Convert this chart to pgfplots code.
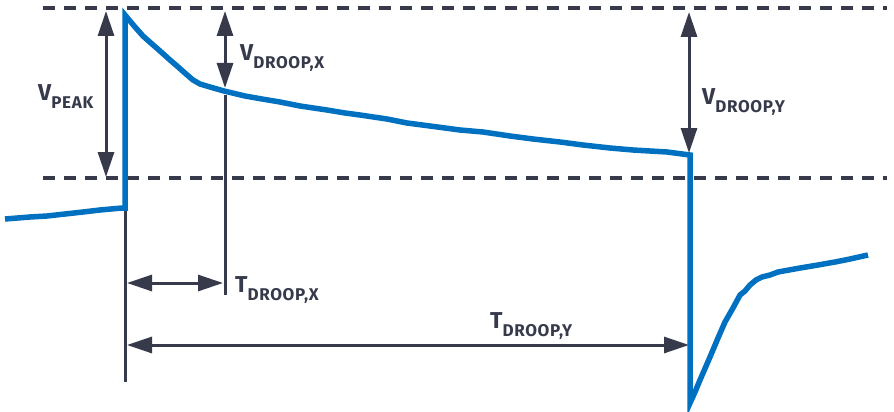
\documentclass[border=0pt]{standalone}
\usepackage{pgfplots}
\pgfplotsset{compat=1.18}
\usepackage{fontspec}
\setmainfont{Fira Sans}
\usetikzlibrary{arrows.meta}

\definecolor{adiblue}{RGB}{0,112,192}
\definecolor{adidark}{RGB}{54,58,75}

% label with lowered subscript
\newcommand{\lbl}[2]{{\fontsize{23}{23}\selectfont\bfseries #1}\raisebox{-8pt}{\fontsize{17}{17}\selectfont\bfseries\addfontfeatures{LetterSpace=4}#2}}

\begin{document}
\begin{tikzpicture}
\begin{axis}[
    x=1pt, y=1pt,
    y dir=reverse,
    xmin=0, xmax=894,
    ymin=0, ymax=412,
    hide axis,
    clip=false,
    ]

    % fix the page to the full canvas
    \path (axis cs:0,0) rectangle (axis cs:894,412);

    % dashed reference levels
    \addplot[adidark, line width=3.5pt, dash pattern=on 12pt off 9pt]
        coordinates {(43,8) (887,8)};
    \addplot[adidark, line width=3.5pt, dash pattern=on 12pt off 9pt]
        coordinates {(43,178) (887,178)};

    % vertical marker lines
    \addplot[adidark, line width=3pt] coordinates {(125,178) (125,382)};
    \addplot[adidark, line width=3pt] coordinates {(225,95) (225,295)};

    % dimension arrows
    \addplot[adidark, line width=3pt,
        {Triangle[length=25pt,width=16pt]}-{Triangle[length=25pt,width=16pt]}]
        coordinates {(106,11) (106,177)};
    \addplot[adidark, line width=3pt,
        {Triangle[length=25pt,width=16pt]}-{Triangle[length=25pt,width=16pt]}]
        coordinates {(225,11) (225,88)};
    \addplot[adidark, line width=3pt,
        {Triangle[length=25pt,width=16pt]}-{Triangle[length=25pt,width=16pt]}]
        coordinates {(689,12) (689,153)};
    \addplot[adidark, line width=3pt,
        {Triangle[length=25pt,width=16pt]}-{Triangle[length=25pt,width=16pt]}]
        coordinates {(127,283) (223,283)};
    \addplot[adidark, line width=3pt,
        {Triangle[length=25pt,width=16pt]}-{Triangle[length=25pt,width=16pt]}]
        coordinates {(127,345) (689,345)};

    % waveform
    \addplot[adiblue, line width=5.5pt] coordinates {
        (5,219) (30,217) (47,216) (65,214) (83,212) (100,210) (122,208) (125,208)
        (125,15) (135,27) (143,36) (152,44) (160,51) (170,60) (177,66) (186,74)
        (193,80) (200,84) (210,87) (224,91) (245,96) (262,99) (280,102) (300,106)
        (327,110) (345,113) (360,115) (387,119) (407,123) (430,126) (460,130)
        (483,132) (510,136) (533,139) (560,142) (583,145) (610,148) (633,150)
        (650,151) (667,152) (690,155)
        (690,403) (695,392) (700,380) (710,357) (718,338) (725,322) (733,308)
        (740,295) (745,291) (750,285) (756,280) (762,277) (770,275) (778,272)
        (800,268) (818,265) (835,262) (850,259) (868,255)
    };

    % labels
    \node[adidark, anchor=base west, inner sep=0pt] at (axis cs:38,100) {\lbl{V}{PEAK}};
    \node[adidark, anchor=base west, inner sep=0pt] at (axis cs:240,61) {\lbl{V}{DROOP,X}};
    \node[adidark, anchor=base west, inner sep=0pt] at (axis cs:702,104) {\lbl{V}{DROOP,Y}};
    \node[adidark, anchor=base west, inner sep=0pt] at (axis cs:235,292) {\lbl{T}{DROOP,X}};
    \node[adidark, anchor=base west, inner sep=0pt] at (axis cs:490,328) {\lbl{T}{DROOP,Y}};
\end{axis}
\end{tikzpicture}
\end{document}
